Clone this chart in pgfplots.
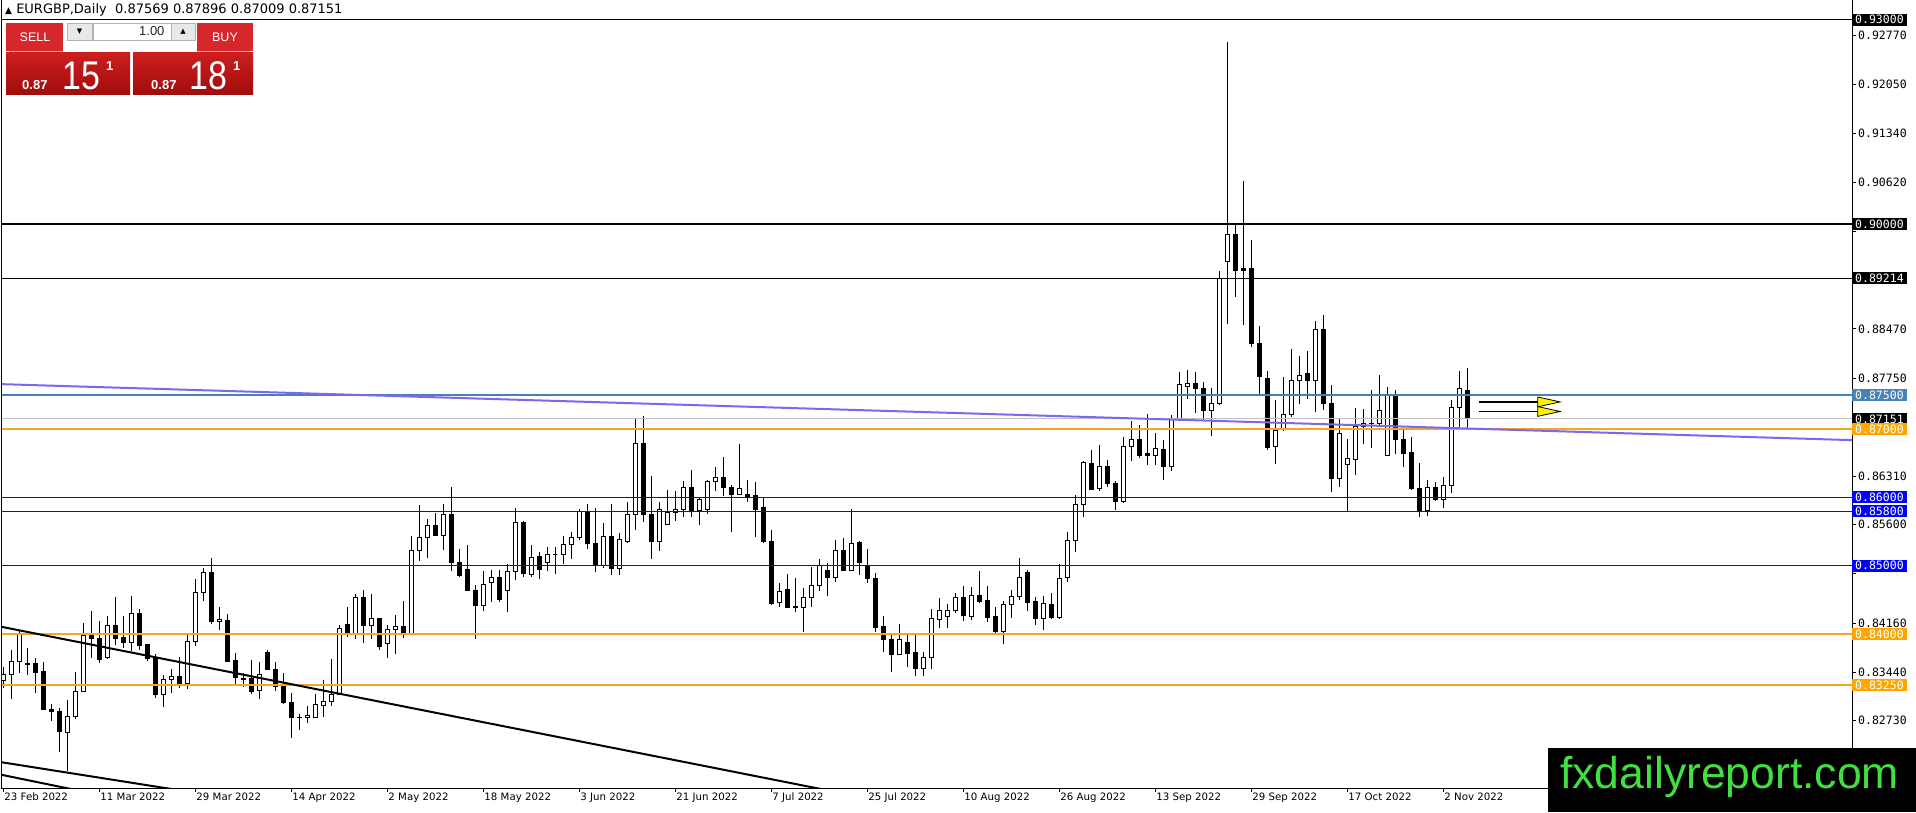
\documentclass[border=0pt]{standalone}
\usepackage{pgfplots}
\pgfplotsset{compat=1.18}
\usepackage{pgfplotstable}
\usepackage{fontspec}
\setmainfont{DejaVu Sans}
\newfontfamily\pricefont{DejaVu Sans Mono}
\newfontfamily\panelfont{Liberation Sans}

\definecolor{steel}{RGB}{70,130,180}
\definecolor{orangeline}{RGB}{245,166,35}
\definecolor{labelorange}{RGB}{255,165,0}
\definecolor{navyline}{RGB}{20,20,140}
\definecolor{labelblue}{RGB}{0,0,255}
\definecolor{silverline}{RGB}{192,192,192}
\definecolor{trendpurple}{RGB}{123,104,238}
\definecolor{btnred}{RGB}{214,40,44}
\definecolor{boxred}{RGB}{204,30,30}
\definecolor{boxdark}{RGB}{160,12,12}
\definecolor{wmgreen}{RGB}{64,224,64}

\pgfplotstableread{
i o h l c
0 0.8332 0.8351 0.8321 0.8341
1 0.8341 0.8376 0.8304 0.8359
2 0.8359 0.8404 0.8343 0.8399
3 0.8357 0.8380 0.8340 0.8355
4 0.8357 0.8365 0.8314 0.8344
5 0.8345 0.8359 0.8289 0.8289
6 0.8289 0.8297 0.8273 0.8286
7 0.8287 0.8291 0.8227 0.8257
8 0.8256 0.8303 0.8199 0.8279
9 0.8279 0.8345 0.8275 0.8316
10 0.8315 0.8416 0.8315 0.8398
11 0.8398 0.8433 0.8365 0.8393
12 0.8393 0.8419 0.8358 0.8363
13 0.8365 0.8427 0.8363 0.8412
14 0.8412 0.8454 0.8384 0.8393
15 0.8395 0.8427 0.8380 0.8388
16 0.8388 0.8455 0.8375 0.8430
17 0.8430 0.8436 0.8376 0.8383
18 0.8384 0.8385 0.8360 0.8364
19 0.8365 0.8370 0.8306 0.8312
20 0.8312 0.8340 0.8293 0.8333
21 0.8333 0.8348 0.8314 0.8338
22 0.8338 0.8366 0.8321 0.8327
23 0.8328 0.8398 0.8319 0.8389
24 0.8389 0.8480 0.8382 0.8461
25 0.8461 0.8497 0.8448 0.8490
26 0.8490 0.8511 0.8415 0.8418
27 0.8418 0.8439 0.8406 0.8421
28 0.8420 0.8429 0.8359 0.8360
29 0.8361 0.8372 0.8326 0.8336
30 0.8333 0.8343 0.8323 0.8335
31 0.8335 0.8362 0.8312 0.8316
32 0.8317 0.8359 0.8305 0.8340
33 0.8373 0.8377 0.8347 0.8348
34 0.8348 0.8359 0.8316 0.8323
35 0.8323 0.8343 0.8298 0.8299
36 0.8299 0.8313 0.8248 0.8277
37 0.8278 0.8283 0.8260 0.8277
38 0.8278 0.8294 0.8270 0.8280
39 0.8278 0.8312 0.8277 0.8296
40 0.8295 0.8332 0.8279 0.8301
41 0.8301 0.8364 0.8294 0.8312
42 0.8312 0.8413 0.8311 0.8408
43 0.8414 0.8439 0.8396 0.8400
44 0.8401 0.8459 0.8392 0.8454
45 0.8454 0.8465 0.8387 0.8412
46 0.8412 0.8458 0.8392 0.8422
47 0.8422 0.8423 0.8377 0.8381
48 0.8386 0.8413 0.8365 0.8406
49 0.8406 0.8428 0.8371 0.8411
50 0.8411 0.8448 0.8394 0.8400
51 0.8401 0.8543 0.8400 0.8523
52 0.8523 0.8589 0.8507 0.8542
53 0.8542 0.8569 0.8512 0.8559
54 0.8559 0.8577 0.8544 0.8545
55 0.8545 0.8591 0.8523 0.8575
56 0.8575 0.8616 0.8492 0.8504
57 0.8504 0.8525 0.8483 0.8485
58 0.8495 0.8531 0.8463 0.8463
59 0.8463 0.8472 0.8392 0.8441
60 0.8441 0.8492 0.8433 0.8473
61 0.8475 0.8494 0.8447 0.8483
62 0.8483 0.8493 0.8447 0.8451
63 0.8463 0.8503 0.8432 0.8491
64 0.8491 0.8585 0.8479 0.8563
65 0.8563 0.8566 0.8483 0.8488
66 0.8487 0.8530 0.8484 0.8512
67 0.8514 0.8520 0.8481 0.8494
68 0.8505 0.8528 0.8492 0.8516
69 0.8516 0.8527 0.8488 0.8516
70 0.8516 0.8544 0.8503 0.8531
71 0.8531 0.8550 0.8510 0.8541
72 0.8541 0.8583 0.8537 0.8580
73 0.8578 0.8590 0.8525 0.8532
74 0.8532 0.8584 0.8491 0.8500
75 0.8501 0.8563 0.8496 0.8543
76 0.8543 0.8591 0.8486 0.8496
77 0.8496 0.8548 0.8487 0.8538
78 0.8535 0.8594 0.8533 0.8575
79 0.8575 0.8715 0.8553 0.8679
80 0.8679 0.8720 0.8564 0.8575
81 0.8575 0.8632 0.8510 0.8536
82 0.8536 0.8594 0.8521 0.8583
83 0.8561 0.8611 0.8560 0.8578
84 0.8578 0.8609 0.8566 0.8582
85 0.8582 0.8624 0.8572 0.8614
86 0.8614 0.8640 0.8572 0.8581
87 0.8581 0.8601 0.8559 0.8597
88 0.8582 0.8626 0.8576 0.8624
89 0.8624 0.8645 0.8609 0.8629
90 0.8629 0.8660 0.8602 0.8614
91 0.8614 0.8618 0.8549 0.8605
92 0.8605 0.8678 0.8603 0.8613
93 0.8604 0.8626 0.8593 0.8602
94 0.8603 0.8623 0.8542 0.8583
95 0.8585 0.8601 0.8533 0.8535
96 0.8535 0.8553 0.8443 0.8445
97 0.8446 0.8474 0.8440 0.8462
98 0.8465 0.8488 0.8438 0.8439
99 0.8440 0.8482 0.8432 0.8439
100 0.8439 0.8468 0.8403 0.8454
101 0.8454 0.8498 0.8440 0.8471
102 0.8471 0.8510 0.8463 0.8500
103 0.8493 0.8504 0.8456 0.8483
104 0.8483 0.8538 0.8476 0.8522
105 0.8522 0.8541 0.8492 0.8493
106 0.8493 0.8583 0.8492 0.8533
107 0.8534 0.8536 0.8486 0.8505
108 0.8501 0.8524 0.8474 0.8482
109 0.8482 0.8490 0.8403 0.8410
110 0.8411 0.8426 0.8374 0.8392
111 0.8392 0.8399 0.8344 0.8370
112 0.8370 0.8414 0.8369 0.8392
113 0.8387 0.8399 0.8352 0.8372
114 0.8373 0.8399 0.8338 0.8349
115 0.8349 0.8374 0.8339 0.8365
116 0.8365 0.8436 0.8348 0.8422
117 0.8421 0.8452 0.8409 0.8434
118 0.8425 0.8444 0.8409 0.8434
119 0.8434 0.8460 0.8430 0.8453
120 0.8453 0.8470 0.8419 0.8427
121 0.8426 0.8469 0.8421 0.8456
122 0.8456 0.8492 0.8445 0.8448
123 0.8449 0.8470 0.8417 0.8424
124 0.8425 0.8439 0.8401 0.8403
125 0.8403 0.8449 0.8386 0.8443
126 0.8443 0.8465 0.8423 0.8455
127 0.8455 0.8512 0.8450 0.8483
128 0.8490 0.8493 0.8433 0.8446
129 0.8447 0.8454 0.8413 0.8422
130 0.8422 0.8455 0.8406 0.8444
131 0.8443 0.8460 0.8422 0.8424
132 0.8424 0.8502 0.8422 0.8481
133 0.8483 0.8549 0.8476 0.8537
134 0.8537 0.8604 0.8520 0.8590
135 0.8590 0.8654 0.8571 0.8651
136 0.8650 0.8669 0.8611 0.8612
137 0.8613 0.8677 0.8610 0.8646
138 0.8646 0.8655 0.8615 0.8620
139 0.8620 0.8624 0.8581 0.8594
140 0.8594 0.8688 0.8592 0.8675
141 0.8674 0.8712 0.8654 0.8685
142 0.8685 0.8706 0.8658 0.8661
143 0.8664 0.8722 0.8647 0.8661
144 0.8661 0.8694 0.8647 0.8672
145 0.8670 0.8684 0.8625 0.8645
146 0.8645 0.8721 0.8639 0.8716
147 0.8716 0.8784 0.8715 0.8766
148 0.8763 0.8787 0.8745 0.8767
149 0.8767 0.8784 0.8724 0.8759
150 0.8760 0.8769 0.8713 0.8727
151 0.8727 0.8760 0.8690 0.8738
152 0.8738 0.8932 0.8735 0.8921
153 0.8946 0.9268 0.8854 0.8986
154 0.8986 0.8999 0.8894 0.8933
155 0.8935 0.9064 0.8853 0.8933
156 0.8935 0.8977 0.8820 0.8826
157 0.8826 0.8851 0.8752 0.8777
158 0.8774 0.8786 0.8669 0.8673
159 0.8675 0.8743 0.8649 0.8698
160 0.8699 0.8776 0.8698 0.8722
161 0.8722 0.8818 0.8718 0.8772
162 0.8772 0.8807 0.8737 0.8779
163 0.8782 0.8814 0.8745 0.8771
164 0.8771 0.8859 0.8725 0.8846
165 0.8846 0.8867 0.8728 0.8738
166 0.8738 0.8765 0.8608 0.8628
167 0.8628 0.8715 0.8615 0.8694
168 0.8649 0.8685 0.8578 0.8657
169 0.8656 0.8731 0.8633 0.8704
170 0.8704 0.8730 0.8679 0.8708
171 0.8708 0.8757 0.8673 0.8709
172 0.8708 0.8780 0.8706 0.8727
173 0.8662 0.8762 0.8661 0.8751
174 0.8751 0.8757 0.8663 0.8685
175 0.8685 0.8700 0.8645 0.8665
176 0.8666 0.8688 0.8611 0.8613
177 0.8613 0.8651 0.8571 0.8579
178 0.8581 0.8625 0.8573 0.8615
179 0.8615 0.8623 0.8595 0.8597
180 0.8597 0.8630 0.8585 0.8617
181 0.8617 0.8743 0.8607 0.8732
182 0.8732 0.8785 0.8703 0.8759
183 0.87569 0.87896 0.87009 0.87151
}\candles

% build the candle plots from the table
\newcommand\candleplots{}
\pgfplotstablegetrowsof{\candles}
\pgfmathtruncatemacro{\lastrow}{\pgfplotsretval-1}
\foreach \r in {0,...,\lastrow}{%
  \pgfplotstablegetelem{\r}{i}\of{\candles}\let\ci\pgfplotsretval
  \pgfplotstablegetelem{\r}{o}\of{\candles}\let\co\pgfplotsretval
  \pgfplotstablegetelem{\r}{h}\of{\candles}\let\ch\pgfplotsretval
  \pgfplotstablegetelem{\r}{l}\of{\candles}\let\cl\pgfplotsretval
  \pgfplotstablegetelem{\r}{c}\of{\candles}\let\cc\pgfplotsretval
  \pgfmathsetmacro{\xa}{\ci-0.27}%
  \pgfmathsetmacro{\xb}{\ci+0.27}%
  \pgfmathtruncatemacro{\isblack}{(\cc<\co)?1:0}%
  \ifnum\isblack=1 \def\bodycol{black}\else\def\bodycol{white}\fi
  \xdef\candleplots{\unexpanded\expandafter{\candleplots}%
    \noexpand\addplot[forget plot,black,line width=1pt] coordinates {(\ci,\cl) (\ci,\ch)};%
    \noexpand\addplot[forget plot,draw=black,line width=1pt,fill=\bodycol] coordinates {(\xa,\co) (\xb,\co) (\xb,\cc) (\xa,\cc)} --cycle;}%
}

\newcommand\plabel[3]{\node[anchor=west, fill=#2, text=white, inner xsep=3pt, inner ysep=0pt, minimum height=12pt, font=\pricefont\fontsize{11.5}{12}\selectfont] at (axis cs:231.09,#1) {#3};}

\begin{document}
\begin{tikzpicture}[x=1pt,y=1pt]
\path[use as bounding box] (0,0) rectangle (1916,812);
\fill[white] (0,0) rectangle (1916,812);
\begin{axis}[
  at={(2pt,24pt)}, anchor=south west, scale only axis,
  width=1850pt, height=788pt,
  xmin=-0.1625, xmax=231.09, ymin=0.81743, ymax=0.93289,
  clip mode=individual,
  axis line style={black, line width=1pt},
  tick style={black, line width=1pt},
  tick align=outside, major tick length=4pt,
  xtick pos=bottom, ytick pos=right,
  yticklabel pos=right,
  scaled y ticks=false,
  xtick={0,12,...,180},
  xticklabels={23 Feb 2022, 11 Mar 2022, 29 Mar 2022, 14 Apr 2022, 2 May 2022, 18 May 2022, 3 Jun 2022, 21 Jun 2022, 7 Jul 2022, 25 Jul 2022, 10 Aug 2022, 26 Aug 2022, 13 Sep 2022, 29 Sep 2022, 17 Oct 2022, 2 Nov 2022},
  xticklabel style={font=\fontsize{10.2}{11}\selectfont, anchor=north west, inner xsep=1pt, inner ysep=1pt},
  ytick={0.9277,0.9205,0.9134,0.9062,0.8847,0.8775,0.8631,0.8560,0.8416,0.8344,0.8273},
  extra y ticks={0.8990,0.8918,0.8703,0.8488},
  extra y tick labels={},
  yticklabel style={font=\pricefont\fontsize{11.5}{12}\selectfont, anchor=west, inner xsep=2pt,
    /pgf/number format/fixed, /pgf/number format/fixed zerofill, /pgf/number format/precision=5,
    /pgf/number format/assume math mode=true},
]
\candleplots
% horizontal levels
\addplot[forget plot, black, line width=1pt] coordinates {(-1,0.93) (232,0.93)};
\addplot[forget plot, black, line width=2pt] coordinates {(-1,0.90) (232,0.90)};
\addplot[forget plot, black, line width=1pt] coordinates {(-1,0.89214) (232,0.89214)};
\addplot[forget plot, steel, line width=1.5pt] coordinates {(-1,0.875) (232,0.875)};
\addplot[forget plot, silverline, line width=1pt] coordinates {(-1,0.87151) (232,0.87151)};
\addplot[forget plot, orangeline, line width=2pt] coordinates {(-1,0.87) (232,0.87)};
\addplot[forget plot, navyline, line width=1.2pt] coordinates {(-1,0.86) (232,0.86)};
\addplot[forget plot, navyline, line width=1.2pt] coordinates {(-1,0.858) (232,0.858)};
\addplot[forget plot, navyline, line width=1.2pt] coordinates {(-1,0.85) (232,0.85)};
\addplot[forget plot, orangeline, line width=2pt] coordinates {(-1,0.84) (232,0.84)};
\addplot[forget plot, orangeline, line width=1.5pt] coordinates {(-1,0.8325) (232,0.8325)};
% trendlines
\addplot[forget plot, trendpurple, line width=2pt] coordinates {(-0.41,0.87661) (231.1,0.86840)};
\addplot[forget plot, black, line width=2pt] coordinates {(-0.41,0.84109) (110,0.81547)};
\addplot[forget plot, black, line width=2pt] coordinates {(-0.41,0.82124) (30,0.81562)};
\addplot[forget plot, black, line width=2pt] coordinates {(-0.41,0.81941) (15,0.81571)};
% arrows
\addplot[forget plot, black, line width=1.3pt] coordinates {(184.5,0.8740) (192.2,0.8740)};
\addplot[forget plot, black, line width=1.3pt] coordinates {(184.5,0.8726) (192.2,0.8726)};
\addplot[forget plot, draw=black, fill=yellow, line width=0.8pt] coordinates {(191.8,0.87472) (194.6,0.8740) (191.8,0.87328)} --cycle;
\addplot[forget plot, draw=black, fill=yellow, line width=0.8pt] coordinates {(191.8,0.87332) (194.6,0.8726) (191.8,0.87188)} --cycle;
% price labels
\plabel{0.93}{black}{0.93000}
\plabel{0.90}{black}{0.90000}
\plabel{0.89214}{black}{0.89214}
\plabel{0.875}{steel}{0.87500}
\plabel{0.87151}{black}{0.87151}
\plabel{0.87}{labelorange}{0.87000}
\plabel{0.86}{labelblue}{0.86000}
\plabel{0.858}{labelblue}{0.85800}
\plabel{0.85}{labelblue}{0.85000}
\plabel{0.84}{labelorange}{0.84000}
\plabel{0.8325}{labelorange}{0.83250}
\end{axis}

% header
\node[anchor=base west, inner sep=0pt, font=\fontsize{13}{14}\selectfont] at (5,798) {{\fontsize{9}{10}\selectfont ▲}\ EURGBP,Daily\ \ 0.87569 0.87896 0.87009 0.87151};

% one-click trading panel
\fill[btnred] (6,761) rectangle (63,789);
\draw[red!40!white, line width=0.8pt] (9,760.6) -- (63,760.6);
\node[text=white, font=\panelfont\fontsize{12.5}{13}\selectfont] at (35,775) {SELL};
\fill[gray!18] (67,772) rectangle (92,789);
\draw[gray!60, line width=0.8pt] (67,772) rectangle (92,789);
\node[font=\fontsize{7}{8}\selectfont] at (79.5,780.5) {▼};
\fill[white] (93,772) rectangle (171,789);
\draw[gray!60, line width=0.8pt] (93,772) rectangle (171,789);
\node[anchor=east, text=black!85, font=\panelfont\fontsize{13}{14}\selectfont] at (168,780.5) {1.00};
\fill[gray!18] (171,772) rectangle (195,789);
\draw[gray!60, line width=0.8pt] (171,772) rectangle (195,789);
\node[font=\fontsize{7}{8}\selectfont] at (183,780.5) {▲};
\fill[btnred] (197,761) rectangle (253,789);
\draw[red!40!white, line width=0.8pt] (197,760.6) -- (250,760.6);
\node[text=white, font=\panelfont\fontsize{12.5}{13}\selectfont] at (225,775) {BUY};
\shade[top color=boxred, bottom color=boxdark] (6,717) rectangle (130,759);
\shade[top color=boxred, bottom color=boxdark] (133,717) rectangle (253,759);
\node[anchor=base west, inner sep=0pt, text=white, font=\panelfont\bfseries\fontsize{13}{14}\selectfont] at (22,722) {0.87};
\node[anchor=base west, inner sep=0pt, text=white, font=\panelfont\fontsize{40}{40}\selectfont] at (62,722) {\scalebox{0.85}[1]{15}};
\node[anchor=base west, inner sep=0pt, text=white, font=\panelfont\bfseries\fontsize{13}{14}\selectfont] at (106,741) {1};
\node[anchor=base west, inner sep=0pt, text=white, font=\panelfont\bfseries\fontsize{13}{14}\selectfont] at (151,722) {0.87};
\node[anchor=base west, inner sep=0pt, text=white, font=\panelfont\fontsize{40}{40}\selectfont] at (189,722) {\scalebox{0.85}[1]{18}};
\node[anchor=base west, inner sep=0pt, text=white, font=\panelfont\bfseries\fontsize{13}{14}\selectfont] at (233,741) {1};

% watermark
\fill[black] (1548,0) rectangle (1916,64);
\node[anchor=base west, inner sep=0pt, text=wmgreen, font=\panelfont\fontsize{44.5}{45}\selectfont] at (1560,24) {fxdailyreport.com};
\end{tikzpicture}
\end{document}
